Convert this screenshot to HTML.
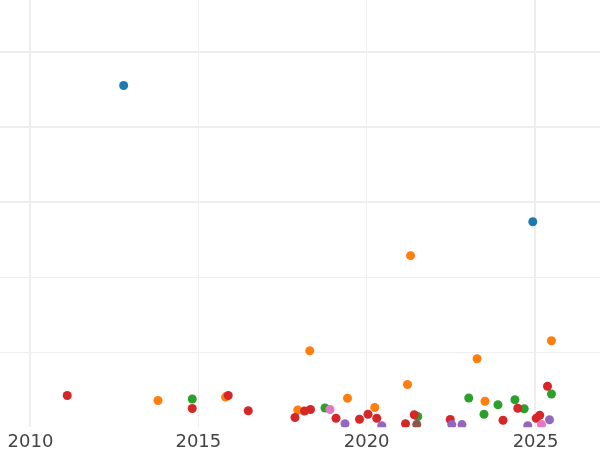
<!DOCTYPE html><html><head><meta charset="utf-8"><title>chart</title><style>html,body{margin:0;padding:0;background:#fff;overflow:hidden}svg{display:block;will-change:transform}text{font-family:"DejaVu Sans","Liberation Sans",sans-serif;font-size:18px;fill:#444}</style></head><body>
<svg width="600" height="450" viewBox="0 0 600 450">
<rect width="600" height="450" fill="#fff"/>
<defs><clipPath id="c"><rect x="0" y="0" width="600" height="427.3"/></clipPath></defs>
<g stroke="#eeeeee" stroke-width="1.5" shape-rendering="crispEdges">
<line x1="30" y1="0" x2="30" y2="427.3"/>
<line x1="198.33" y1="0" x2="198.33" y2="427.3"/>
<line x1="366.67" y1="0" x2="366.67" y2="427.3"/>
<line x1="535" y1="0" x2="535" y2="427.3"/>
<line x1="0" y1="52" x2="600" y2="52"/>
<line x1="0" y1="127" x2="600" y2="127"/>
<line x1="0" y1="202" x2="600" y2="202"/>
<line x1="0" y1="277.3" x2="600" y2="277.3"/>
<line x1="0" y1="352.4" x2="600" y2="352.4"/>
</g><g clip-path="url(#c)">
<g fill="#1f77b4">
<circle cx="123.65" cy="85.5" r="4.5"/>
<circle cx="532.8" cy="221.8" r="4.5"/>
</g>
<g fill="#ff7f0e">
<circle cx="158.0" cy="400.55" r="4.5"/>
<circle cx="225.55" cy="397.1" r="4.5"/>
<circle cx="297.75" cy="410.05" r="4.5"/>
<circle cx="309.75" cy="350.8" r="4.5"/>
<circle cx="347.5" cy="398.3" r="4.5"/>
<circle cx="374.75" cy="407.55" r="4.5"/>
<circle cx="407.5" cy="384.55" r="4.5"/>
<circle cx="410.55" cy="255.65" r="4.5"/>
<circle cx="477.05" cy="358.7" r="4.5"/>
<circle cx="485.0" cy="401.3" r="4.5"/>
<circle cx="551.45" cy="340.7" r="4.5"/>
</g>
<g fill="#2ca02c">
<circle cx="192.25" cy="399.05" r="4.5"/>
<circle cx="325.0" cy="408.05" r="4.5"/>
<circle cx="417.75" cy="416.55" r="4.5"/>
<circle cx="468.75" cy="398.05" r="4.5"/>
<circle cx="484.0" cy="414.3" r="4.5"/>
<circle cx="497.95" cy="404.8" r="4.5"/>
<circle cx="514.95" cy="399.8" r="4.5"/>
<circle cx="524.2" cy="408.7" r="4.5"/>
<circle cx="551.5" cy="394.05" r="4.5"/>
</g>
<g fill="#d62728">
<circle cx="67.25" cy="395.55" r="4.5"/>
<circle cx="192.25" cy="408.55" r="4.5"/>
<circle cx="228.25" cy="395.55" r="4.5"/>
<circle cx="248.25" cy="410.8" r="4.5"/>
<circle cx="295.0" cy="417.55" r="4.5"/>
<circle cx="304.5" cy="411.05" r="4.5"/>
<circle cx="310.5" cy="409.55" r="4.5"/>
<circle cx="336.0" cy="418.3" r="4.5"/>
<circle cx="359.5" cy="419.3" r="4.5"/>
<circle cx="368.0" cy="414.3" r="4.5"/>
<circle cx="376.75" cy="418.3" r="4.5"/>
<circle cx="405.5" cy="423.8" r="4.5"/>
<circle cx="414.25" cy="414.8" r="4.5"/>
<circle cx="450.25" cy="419.55" r="4.5"/>
<circle cx="503.0" cy="420.3" r="4.5"/>
<circle cx="517.75" cy="408.3" r="4.5"/>
<circle cx="536.25" cy="418.3" r="4.5"/>
<circle cx="539.75" cy="415.3" r="4.5"/>
<circle cx="547.5" cy="386.3" r="4.5"/>
</g>
<g fill="#9467bd">
<circle cx="345.0" cy="423.8" r="4.5"/>
<circle cx="381.75" cy="425.8" r="4.5"/>
<circle cx="451.75" cy="424.6" r="4.5"/>
<circle cx="462.0" cy="424.6" r="4.5"/>
<circle cx="527.75" cy="425.8" r="4.5"/>
<circle cx="549.5" cy="419.8" r="4.5"/>
</g>
<g fill="#8c564b">
<circle cx="416.75" cy="424.4" r="4.5"/>
</g>
<g fill="#e377c2">
<circle cx="330.0" cy="409.55" r="4.5"/>
<circle cx="541.5" cy="424.6" r="4.5"/>
</g>
</g>
<text transform="translate(30.45 447) scale(1 1.02)" x="0" y="0" text-anchor="middle">2010</text>
<text transform="translate(198.33 447) scale(1 1.02)" x="0" y="0" text-anchor="middle">2015</text>
<text transform="translate(366.67 447) scale(1 1.02)" x="0" y="0" text-anchor="middle">2020</text>
<text transform="translate(535.55 447) scale(1 1.02)" x="0" y="0" text-anchor="middle">2025</text>
</svg></body></html>
